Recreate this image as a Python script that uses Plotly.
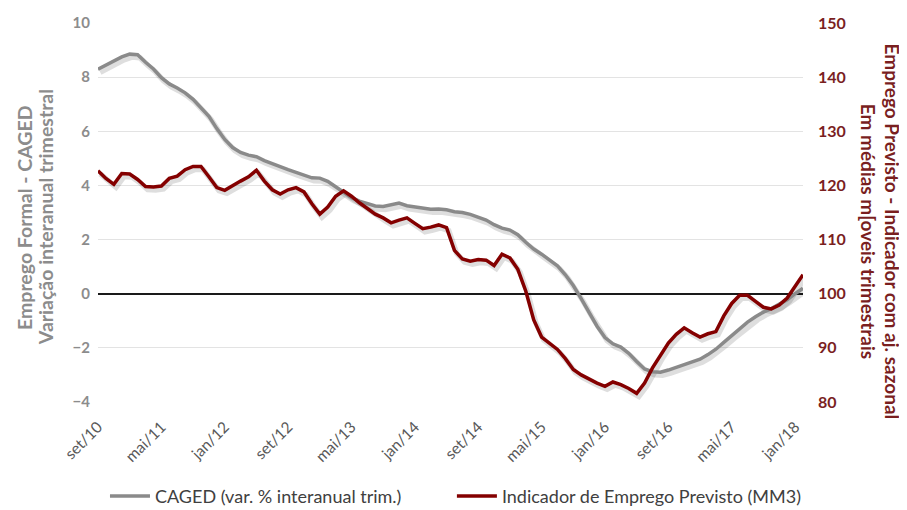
import plotly.graph_objects as go

month_abbr = ["jan", "fev", "mar", "abr", "mai", "jun", "jul", "ago", "set", "out", "nov", "dez"]
months = []
_y, _m = 2010, 8
for _ in range(90):
    months.append(f"{month_abbr[_m]}/{_y % 100:02d}")
    _m += 1
    if _m == 12:
        _m = 0
        _y += 1

tick_labels = ["set/10", "mai/11", "jan/12", "set/12", "mai/13", "jan/14",
               "set/14", "mai/15", "jan/16", "set/16", "mai/17", "jan/18"]

caged = [8.29, 8.45, 8.6, 8.75, 8.85, 8.83, 8.55, 8.3, 7.98, 7.75,
         7.6, 7.42, 7.18, 6.88, 6.55, 6.1, 5.7, 5.4, 5.22, 5.12,
         5.06, 4.92, 4.8, 4.7, 4.58, 4.48, 4.38, 4.28, 4.27, 4.15,
         3.95, 3.75, 3.55, 3.42, 3.32, 3.24, 3.22, 3.3, 3.35, 3.25,
         3.2, 3.17, 3.12, 3.13, 3.1, 3.03, 3.0, 2.93, 2.82, 2.72,
         2.55, 2.42, 2.35, 2.18, 1.9, 1.65, 1.46, 1.24, 1.03, 0.7,
         0.3, -0.18, -0.7, -1.2, -1.62, -1.85, -1.97, -2.2, -2.5, -2.78,
         -2.88, -2.9, -2.82, -2.72, -2.62, -2.52, -2.42, -2.25, -2.05, -1.8,
         -1.55, -1.3, -1.05, -0.85, -0.68, -0.55, -0.4, -0.22, 0.0, 0.2]

indicador = [122.7, 121.3, 120.2, 122.2, 122.1, 121.1, 119.8, 119.7, 119.9, 121.3,
             121.7, 122.9, 123.5, 123.5, 121.6, 119.6, 119.1, 120.0, 120.8, 121.6,
             122.8, 120.8, 119.2, 118.4, 119.2, 119.6, 118.8, 116.6, 114.7, 116.0,
             118.0, 119.0, 118.0, 116.8, 115.8, 114.7, 114.0, 113.1, 113.6, 114.0,
             113.0, 112.0, 112.3, 112.7, 112.2, 108.0, 106.4, 106.0, 106.3, 106.2,
             105.2, 107.3, 106.6, 104.5, 100.5, 95.2, 92.0, 90.9, 89.7, 88.0,
             86.0, 85.0, 84.2, 83.5, 82.9, 83.7, 83.2, 82.5, 81.6, 83.5,
             86.3, 88.7, 90.9, 92.5, 93.7, 92.8, 92.0, 92.6, 93.0, 95.9,
             98.2, 99.7, 99.7, 98.6, 97.5, 97.2, 97.9, 99.2, 101.5, 103.5]

left_title = ["Emprego Formal - CAGED", "Variação interanual trimestral"]
right_title = ["Emprego Previsto - Indicador com aj. sazonal", "Em médias m[oveis trimestrais"]

GRAY = "#8a8a8a"
RED = "#840000"
RED_TXT = "#7a1f1f"
GRAY_TXT = "#8c8c8c"
FONT = "Lato"

n = len(months)
left_rng = [-4, 10]
right_rng = [80, 150]
# shadow offsets (in data units) ~2px right, ~3px down
dx = 2.2 / (705 / (n - 1))
dyl = 3.0 / (379 / 14)
dyr = 3.0 / (379 / 70)
SHADOW = "rgba(0,0,0,0.13)"

fig = go.Figure()
# shadows (base subplot, drawn beneath)
fig.add_trace(go.Scatter(x=months, y=caged, mode="lines", xaxis="x", yaxis="y",
                         line=dict(color=SHADOW, width=5.5), showlegend=False, hoverinfo="skip"))
fig.add_trace(go.Scatter(x=months, y=indicador, mode="lines", xaxis="x", yaxis="y2",
                         line=dict(color=SHADOW, width=5.5), showlegend=False, hoverinfo="skip"))
# main lines
fig.add_trace(go.Scatter(x=months, y=caged, mode="lines", xaxis="x2", yaxis="y3",
                         name="CAGED (var. % interanual trim.)", legend="legend",
                         line=dict(color=GRAY, width=3.5)))
fig.add_trace(go.Scatter(x=months, y=indicador, mode="lines", xaxis="x2", yaxis="y4",
                         name="Indicador de Emprego Previsto (MM3)", legend="legend2",
                         line=dict(color=RED, width=3.5)))

hidden = dict(visible=False, showgrid=False, zeroline=False, fixedrange=True, automargin=False)
legend_common = dict(orientation="h", y=-0.249, yanchor="middle", xanchor="left",
                     font=dict(size=18, color="#404040", family=FONT),
                     itemwidth=40, bgcolor="rgba(0,0,0,0)")

# figure is 8px smaller than the window: the page body has an 8px margin
fig.update_layout(
    width=899, height=502,
    margin=dict(l=90, r=104, t=15, b=108, autoexpand=False),
    paper_bgcolor="white", plot_bgcolor="white",
    font=dict(family=FONT, color="#595959"),
    xaxis=dict(type="category", categoryorder="array", categoryarray=months,
               range=[-dx, n - 1 - dx], **hidden),
    yaxis=dict(range=[left_rng[0] + dyl, left_rng[1] + dyl], **hidden),
    yaxis2=dict(range=[right_rng[0] + dyr, right_rng[1] + dyr], overlaying="y", **hidden),
    xaxis2=dict(type="category", categoryorder="array", categoryarray=months,
                range=[0, n - 1], overlaying="x", anchor="y3", side="bottom",
                tickmode="array", tickvals=tick_labels, ticktext=tick_labels,
                tickangle=-45, tickfont=dict(size=15.5, color="#595959", family=FONT),
                showgrid=False, zeroline=False, showline=False, ticks="",
                ticklabelstandoff=12, automargin=False),
    yaxis3=dict(range=left_rng, overlaying="y", side="left", anchor="x2",
                tickmode="array", tickvals=[-4, -2, 0, 2, 4, 6, 8, 10],
                tickfont=dict(size=15, color=GRAY_TXT, family=FONT, weight="bold"),
                showgrid=True, gridcolor="#e3e3e3", gridwidth=1.2,
                zeroline=True, zerolinecolor="#1a1a1a", zerolinewidth=2.2,
                showline=False, ticks="", ticklabelstandoff=7, automargin=False),
    yaxis4=dict(range=right_rng, overlaying="y", side="right", anchor="x2",
                tickmode="array", tickvals=[80, 90, 100, 110, 120, 130, 140, 150],
                tickfont=dict(size=16, color=RED_TXT, family=FONT, weight="bold"),
                showgrid=False, zeroline=False, showline=False, ticks="",
                ticklabelstandoff=14, automargin=False),
    legend=dict(x=0.0099, **legend_common),
    legend2=dict(x=0.502, **legend_common),
    annotations=[
        dict(text=f"<b>{left_title[0]}</b>", xref="paper", yref="paper",
             x=-0.105, y=0.488, textangle=-90, showarrow=False,
             font=dict(size=19.5, color=GRAY_TXT, family=FONT),
             xanchor="center", yanchor="middle"),
        dict(text=f"<b>{left_title[1]}</b>", xref="paper", yref="paper",
             x=-0.075, y=0.488, textangle=-90, showarrow=False,
             font=dict(size=19.5, color=GRAY_TXT, family=FONT),
             xanchor="center", yanchor="middle"),
        dict(text=f"<b>{right_title[0]}</b>", xref="paper", yref="paper",
             x=1.127, y=0.451, textangle=90, showarrow=False,
             font=dict(size=19, color=RED_TXT, family=FONT),
             xanchor="center", yanchor="middle"),
        dict(text=f"<b>{right_title[1]}</b>", xref="paper", yref="paper",
             x=1.094, y=0.451, textangle=90, showarrow=False,
             font=dict(size=19, color=RED_TXT, family=FONT),
             xanchor="center", yanchor="middle"),
    ],
)

fig.write_html("out.html")
